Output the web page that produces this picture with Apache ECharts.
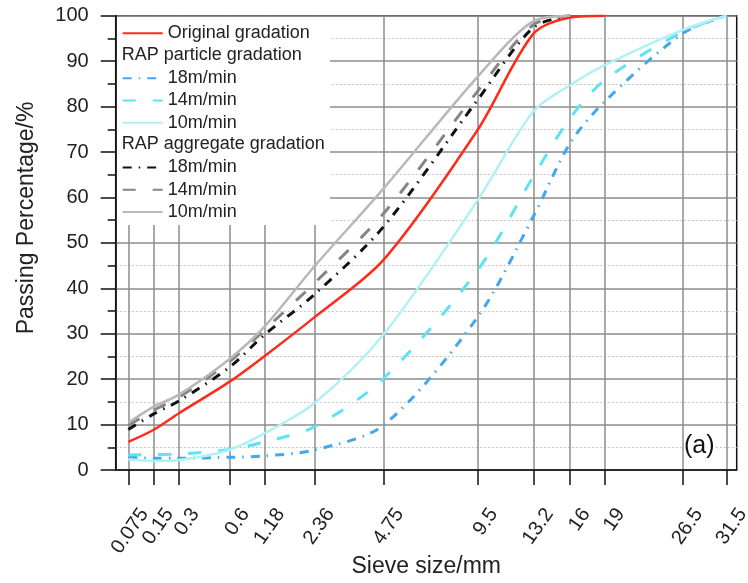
<!DOCTYPE html>
<html>
<head>
<meta charset="utf-8">
<script src="https://cdn.jsdelivr.net/npm/echarts@6/dist/echarts.min.js"></script>
<style>
html, body { margin: 0; padding: 0; background: #fff; }
#box { width: 748px; height: 583px; }
</style>
</head>
<body>
<div id="box"></div>
<script>
// sieve sizes (mm) and where each one sits along the gradation axis (0 .. 100)
const sieveSizes = [0.075, 0.15, 0.3, 0.6, 1.18, 2.36, 4.75, 9.5, 13.2, 16, 19, 26.5, 31.5]
const sieveAxisPos = [0, 4.18, 8.47, 16.88, 22.79, 31.08, 42.68, 58.39, 67.68, 73.81, 79.61, 92.65, 100]

// passing percentage (%) at each sieve
const original = [6.2, 8.8, 12.5, 19.4, 25.1, 33.6, 46.3, 74.9, 96.0, 99.6, 100]
const particle18 = [2.9, 2.6, 2.6, 2.8, 3.1, 4.4, 9.9, 33.7, 55.8, 71.9, 81.1, 96.1, 100]
const particle14 = [3.3, 3.4, 3.5, 4.5, 6.2, 9.5, 20.2, 44.0, 64.6, 77.4, 85.8, 96.5, 100]
const particle10 = [2.3, 2.0, 2.2, 4.4, 8.1, 14.7, 29.9, 59.4, 78.9, 84.7, 89.1, 96.9, 100]
const aggregate18 = [8.9, 12.3, 15.2, 22.6, 29.8, 38.6, 53.6, 81.5, 97.4, 100]
const aggregate14 = [9.8, 13.1, 16.0, 23.8, 30.9, 41.1, 56.5, 83.4, 98.0, 100]
const aggregate10 = [10.4, 13.9, 16.6, 24.4, 31.6, 44.8, 62.0, 86.6, 98.8, 100]

const FONT = 'Liberation Sans, Arial, sans-serif'

function sieveToAxis(size) {
  for (let i = 0; i < sieveSizes.length - 1; i++) {
    if (size <= sieveSizes[i + 1]) {
      const t = (size - sieveSizes[i]) / (sieveSizes[i + 1] - sieveSizes[i])
      return sieveAxisPos[i] + t * (sieveAxisPos[i + 1] - sieveAxisPos[i])
    }
  }
  return sieveAxisPos[sieveAxisPos.length - 1]
}

function toPoints(values) {
  return values.map((v, i) => [sieveToAxis(sieveSizes[i]), v])
}

function lineSeries(name, values, color, type, width) {
  return {
    name: name,
    type: 'line',
    data: toPoints(values),
    symbol: 'none',
    smooth: 0.3,
    color: color,
    lineStyle: { color: color, width: width, type: type, cap: 'butt' }
  }
}

const dash18 = [9, 7, 1.5, 7]
const dash14 = [13, 17]

const staticGraphics = [
  { type: 'rect', z: 3, shape: { x: 117, y: 17, width: 213, height: 208 }, style: { fill: '#fff' } },
  { type: 'text', z: 5, x: 121.7, y: 55, style: { text: 'RAP particle gradation', fill: '#222', font: '18px ' + FONT, verticalAlign: 'middle' } },
  { type: 'text', z: 5, x: 121.7, y: 144.5, style: { text: 'RAP aggregate gradation', fill: '#222', font: '18px ' + FONT, verticalAlign: 'middle' } },
  { type: 'text', z: 5, x: 27, y: 218, rotation: Math.PI / 2, style: { text: 'Passing Percentage/%', fill: '#222', font: '23px ' + FONT, align: 'center', verticalAlign: 'middle' } },
  { type: 'text', z: 5, x: 684, y: 446, style: { text: '(a)', fill: '#111', font: '25px ' + FONT, verticalAlign: 'middle', backgroundColor: '#fff' } }
]

const chart = echarts.init(document.getElementById('box'))
chart.setOption({
  animation: false,
  textStyle: { fontFamily: FONT },
  grid: {
    left: 115.7, right: 11.3, top: 15.7, bottom: 113,
    show: true, borderColor: '#111', borderWidth: 1.5,
    outerBoundsMode: 'none'
  },
  xAxis: {
    type: 'value',
    min: -2.11,
    max: 101.67,
    name: 'Sieve size/mm',
    nameLocation: 'middle',
    nameGap: 85,
    nameMoveOverlap: false,
    nameTextStyle: { fontSize: 23, color: '#222', fontFamily: FONT },
    axisLine: { onZero: false, lineStyle: { color: '#111', width: 1.5 } },
    axisTick: { show: true, inside: false, length: 15, customValues: sieveAxisPos, lineStyle: { color: '#111', width: 1.5 } },
    axisLabel: { show: false },
    splitLine: { show: true, lineStyle: { color: '#8c8c8c', width: 1.5 } }
  },
  yAxis: {
    type: 'value',
    min: 0,
    max: 100,
    interval: 10,
    axisLine: { show: true, onZero: false, lineStyle: { color: '#111', width: 1.5 } },
    axisTick: { show: true, inside: false, length: 15, lineStyle: { color: '#111', width: 1.5 } },
    minorTick: { show: true, splitNumber: 2, length: 8, lineStyle: { color: '#111', width: 1.5 } },
    axisLabel: { fontSize: 20, color: '#222', margin: 27, fontFamily: FONT },
    splitLine: { show: true, lineStyle: { color: '#8c8c8c', width: 1.5 } },
    minorSplitLine: { show: true, lineStyle: { color: '#c4c4c4', width: 1, type: [2, 2] } }
  },
  legend: [
    {
      data: ['Original gradation'],
      orient: 'vertical', left: 116.7, top: 19.3,
      itemWidth: 40, itemHeight: 14, itemGap: 4.3,
      selectedMode: false,
      itemStyle: { opacity: 0 },
      textStyle: { fontSize: 18, color: '#222', fontFamily: FONT }
    },
    {
      data: ['particle 18m/min', 'particle 14m/min', 'particle 10m/min'],
      orient: 'vertical', left: 116.7, top: 64.2,
      itemWidth: 40, itemHeight: 14, itemGap: 4.3,
      selectedMode: false,
      itemStyle: { opacity: 0 },
      formatter: name => name.split(' ')[1],
      textStyle: { fontSize: 18, color: '#222', fontFamily: FONT }
    },
    {
      data: ['aggregate 18m/min', 'aggregate 14m/min', 'aggregate 10m/min'],
      orient: 'vertical', left: 116.7, top: 153.5,
      itemWidth: 40, itemHeight: 14, itemGap: 4.3,
      selectedMode: false,
      itemStyle: { opacity: 0 },
      formatter: name => name.split(' ')[1],
      textStyle: { fontSize: 18, color: '#222', fontFamily: FONT }
    }
  ],
  graphic: { elements: staticGraphics },
  series: [
    lineSeries('Original gradation', original, '#ff2a1a', 'solid', 2.5),
    lineSeries('particle 18m/min', particle18, '#45a6f0', dash18, 3),
    lineSeries('particle 14m/min', particle14, '#5ee2f4', dash14, 3),
    lineSeries('particle 10m/min', particle10, '#b0f1f6', 'solid', 2.5),
    lineSeries('aggregate 18m/min', aggregate18, '#111111', dash18, 3),
    lineSeries('aggregate 14m/min', aggregate14, '#858585', dash14, 3),
    lineSeries('aggregate 10m/min', aggregate10, '#b8b8b8', 'solid', 2.5)
  ]
})

// tick labels: placed through the x axis scale, rotated and set a little
// to the right of their ticks as in the original figure
const tickLabels = sieveSizes.map((s, i) => {
  const p = chart.convertToPixel({ gridIndex: 0 }, [sieveAxisPos[i], 0])
  return {
    type: 'text',
    z: 5,
    x: p[0] + 16,
    y: p[1] + 40.5,
    rotation: 55 * Math.PI / 180,
    style: { text: String(s), fill: '#222', font: '20px ' + FONT, align: 'right', verticalAlign: 'middle' }
  }
})
chart.setOption({ graphic: { elements: staticGraphics.concat(tickLabels) } })
</script>
</body>
</html>
